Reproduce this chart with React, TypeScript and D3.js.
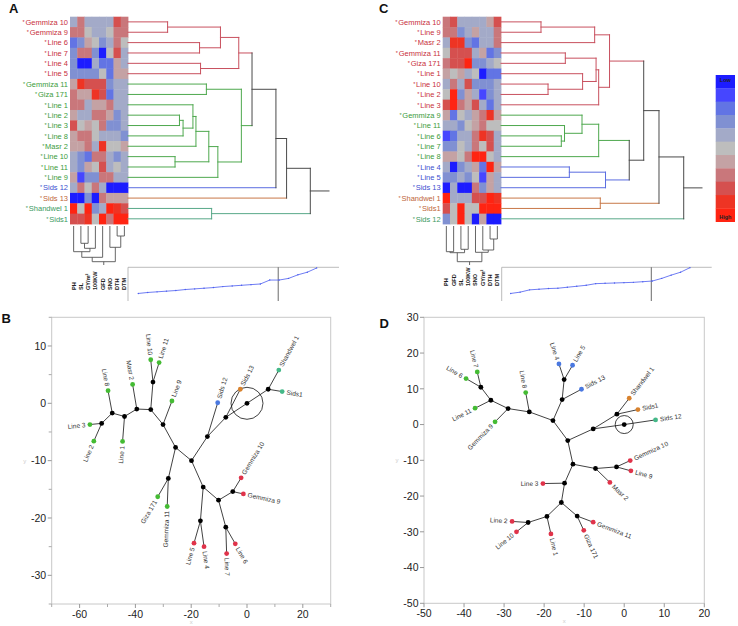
import React from "react";
import * as d3 from "d3";

// ---------- shared palette (Low -> High) ----------
const palette = ["#1c1cff", "#4646ff", "#6274e4", "#8090d2", "#a3aac8", "#bdbdbd", "#c4a2a4", "#c9777b", "#d5504f", "#ee3424", "#ff2412"];

const labelColor: Record<string, string> = { r: "#c83040", g: "#3c9c3c", b: "#3c50d0", o: "#c0663a", t: "#3a9a62" };
const branchColor: Record<string, string> = { r: "#c8505e", g: "#4ea84e", b: "#5a6ce0", o: "#c87848", t: "#58a888", k: "#4a4a4a" };
const dotColor: Record<string, string> = { r: "#e0334a", g: "#44bb33", b: "#4a78e0", o: "#d8822e", t: "#44b888" };

// ---------- Panel A data ----------
const colsA = ["PH", "SL", "GY/m²", "100KW", "GFD", "SNO", "DTH", "DTM"];
const rowsA = ["Gemmiza 10", "Gemmiza 9", "Line 6", "Line 7", "Line 4", "Line 5", "Gemmiza 11", "Giza 171", "Line 1", "Line 2", "Line 3", "Line 8", "Masr 2", "Line 10", "Line 11", "Line 9", "Sids 12", "Sids 13", "Shandwel 1", "Sids1"];
const groupsA = ["r", "r", "r", "r", "r", "r", "g", "g", "g", "g", "g", "g", "g", "g", "g", "g", "b", "o", "t", "t"];
const heatA = [
  [-1, 2, -1, -1, -1, -1, 3, 2],
  [2, 2, 0, -1, -1, 0, 2, 2],
  [-3, -2, 1, 0, -2, -1, 2, 0],
  [-2, 2, 2, -2, -5, 0, 3, -1],
  [-2, -5, -5, -1, -3, -3, 1, -1],
  [-2, -2, -2, -2, 0, -3, 1, 1],
  [1, 4, 3, 3, 3, -2, -1, -1],
  [2, 1, 1, 4, 3, -3, -1, -1],
  [2, 2, -1, 1, 1, 2, -1, -1],
  [1, -1, -1, 2, 2, 1, -2, -1],
  [3, 0, 1, 0, 2, -2, -2, -1],
  [1, 2, 2, 0, -1, -1, -1, -2],
  [1, 1, 2, -1, 4, 0, 0, 1],
  [-1, -2, -3, 2, 2, -1, -2, -1],
  [-1, -2, 1, 0, 3, -1, 0, -1],
  [1, -4, -2, -2, 2, 2, -1, -1],
  [-1, 2, 0, 2, -1, -5, -5, -5],
  [-5, -5, -2, -5, 2, 1, 1, 1],
  [5, 0, 5, -2, -1, 5, 4, 3],
  [3, 3, 4, 0, 5, 2, 5, 5],
];
type M = [string | number, string | number, number, string];
const mergesA: M[] = [
  ["Gemmiza 10", "Gemmiza 9", 1.97, "r"],
  ["Line 6", "Line 7", 3.56, "r"],
  [0, 1, 4.6, "r"],
  ["Line 4", "Line 5", 3.61, "r"],
  [2, 3, 5.51, "r"],
  ["Gemmiza 11", "Giza 171", 3.9, "g"],
  ["Line 2", "Line 3", 2.56, "g"],
  [6, "Line 8", 2.74, "g"],
  ["Line 1", 7, 3.23, "g"],
  [8, "Masr 2", 3.38, "g"],
  ["Line 10", "Line 11", 2.34, "g"],
  [9, 10, 4.02, "g"],
  [11, "Line 9", 4.47, "g"],
  [5, 12, 5.64, "g"],
  [4, 13, 6.17, "k"],
  [14, "Sids 12", 7.36, "k"],
  [15, "Sids 13", 7.89, "k"],
  ["Shandwel 1", "Sids1", 4.16, "t"],
  [16, 17, 9.07, "k"],
];
type CM = [string | number, string | number, number];
const colMergesA: CM[] = [
  ["SL", "GY/m²", 1.73],
  [0, "100KW", 2.23],
  ["PH", 1, 2.57],
  [2, "GFD", 3.13],
  ["DTH", "DTM", 1.0],
  ["SNO", 4, 2.13],
  [3, 5, 3.57],
];
const kdA = [0.2, 0.23, 0.25, 0.27, 0.29, 0.32, 0.34, 0.36, 0.38, 0.41, 0.43, 0.45, 0.47, 0.49, 0.61, 0.61, 0.66, 0.77, 0.85, 0.98];

// ---------- Panel C data ----------
const colsC = ["PH", "GFD", "SL", "100KW", "SNO", "GY/m²", "DTH", "DTM"];
const rowsC = ["Gemmiza 10", "Line 9", "Masr 2", "Gemmiza 11", "Giza 171", "Line 1", "Line 10", "Line 2", "Line 3", "Gemmiza 9", "Line 11", "Line 6", "Line 7", "Line 8", "Line 4", "Line 5", "Sids 13", "Shandwel 1", "Sids1", "Sids 12"];
const groupsC = ["r", "r", "r", "r", "r", "r", "r", "r", "r", "g", "g", "g", "g", "g", "b", "b", "b", "o", "o", "t"];
const heatC = [
  [2, 3, -1, -1, -1, -1, 1, 3],
  [2, 2, -2, -1, 1, -1, -1, 2],
  [-1, 4, 4, -2, -3, -1, -1, 2],
  [0, 3, 3, 3, -1, 1, -3, -2],
  [2, 3, 3, 5, -2, -2, -1, 0],
  [1, 0, 1, -1, 0, -5, -3, -3],
  [-1, 2, -1, 3, -2, -2, -2, -1],
  [0, 5, -2, 1, -1, -4, -2, -1],
  [3, 5, 2, 1, 3, -1, -3, -1],
  [1, -3, 0, -1, 1, 2, 4, 1],
  [-1, -1, -2, 0, 1, 2, 0, 0],
  [-4, -3, -1, -1, 2, 4, 3, -1],
  [-2, -2, 0, -1, 2, 0, 3, -1],
  [1, 1, 0, 2, 5, 5, 0, -1],
  [-1, -5, -2, -1, 1, -3, 5, 1],
  [-2, -2, -1, -2, 0, -4, 1, -1],
  [-5, -1, -5, -5, 2, -2, 1, -1],
  [5, -1, -1, -1, 3, 3, 5, 4],
  [3, 0, 5, 0, 0, 5, 5, 5],
  [-2, 0, 5, 0, -5, 1, -5, -5],
];
const mergesC: M[] = [
  ["Gemmiza 10", "Line 9", 1.99, "r"],
  [0, "Masr 2", 4.66, "r"],
  ["Gemmiza 11", "Giza 171", 3.2, "r"],
  ["Line 10", "Line 2", 2.34, "r"],
  ["Line 1", 3, 4.06, "r"],
  [2, 4, 4.73, "r"],
  [5, "Line 3", 4.86, "r"],
  [1, 6, 5.4, "r"],
  ["Line 6", "Line 7", 3.0, "g"],
  ["Line 11", 8, 3.16, "g"],
  ["Gemmiza 9", 9, 4.03, "g"],
  [10, "Line 8", 4.86, "g"],
  ["Line 4", "Line 5", 3.4, "b"],
  [12, "Sids 13", 5.2, "b"],
  [11, 13, 6.38, "k"],
  [7, 14, 7.1, "k"],
  ["Shandwel 1", "Sids1", 4.94, "o"],
  [15, 16, 7.86, "k"],
  [17, "Sids 12", 9.09, "k"],
];
const colMergesC: CM[] = [
  ["PH", "GFD", 2.57],
  ["SL", "100KW", 2.33],
  [0, 1, 2.67],
  ["DTH", "DTM", 1.3],
  ["GY/m²", 3, 2.4],
  ["SNO", 4, 2.63],
  [2, 5, 3.57],
];
const kdC = [0.2, 0.24, 0.31, 0.33, 0.35, 0.36, 0.39, 0.42, 0.45, 0.5, 0.51, 0.52, 0.53, 0.54, 0.56, 0.58, 0.66, 0.76, 0.85, 0.99];

// ---------- Panel B data ----------
type N = [string, number, number, string];
const treeBNodes: N[] = [
  ["c", 0, 0, ""], ["n1", 7.6, 2.45, ""], ["n2", -7.6, -2.45, ""], ["n3", -14.2, -5.8, ""],
  ["n4", -19.9, -10.0, ""], ["n5", -25.6, -7.7, ""], ["n6", -30.1, -3.7, ""], ["n7", -34.5, -1.1, ""],
  ["n8", -33.7, 3.7, ""], ["n9", -39.5, -1.0, ""], ["n10", -43.9, -2.3, ""], ["n11", -48.3, -1.7, ""],
  ["n12", -52.1, -3.5, ""], ["n13", -28.2, -13.1, ""], ["n14", -15.7, -14.6, ""], ["n15", -16.7, -20.5, ""],
  ["n16", -10.2, -16.9, ""], ["n17", -5.1, -15.4, ""], ["n18", -7.6, -21.6, ""],
  ["Shandwel 1", 11.4, 5.8, "t"], ["Sids1", 12.6, 2.05, "t"], ["Sids 13", -2.4, 2.45, "o"],
  ["Sids 12", -10.5, 0.1, "b"], ["Line 9", -26.9, 0.4, "g"], ["Line 10", -34.5, 7.6, "g"],
  ["Line 11", -31.5, 7.1, "g"], ["Masr 2", -41.0, 3.3, "g"], ["Line 8", -49.8, 2.2, "g"],
  ["Line 3", -56.3, -3.7, "g"], ["Line 2", -54.9, -6.6, "g"], ["Line 1", -44.6, -6.65, "g"],
  ["Giza 171", -32.0, -16.3, "g"], ["Gemmiza 11", -28.6, -18.0, "g"], ["Gemmiza 10", -2.1, -13.0, "r"],
  ["Gemmiza 9", -1.3, -15.8, "r"], ["Line 5", -19.0, -24.4, "r"], ["Line 4", -15.4, -25.0, "r"],
  ["Line 7", -7.3, -26.2, "r"], ["Line 6", -4.2, -24.5, "r"],
];
const treeBEdges: [string, string][] = [
  ["c", "n1"], ["c", "n2"], ["n1", "Shandwel 1"], ["n1", "Sids1"], ["n2", "Sids 13"], ["n2", "n3"],
  ["n3", "Sids 12"], ["n3", "n4"], ["n4", "n5"], ["n4", "n14"], ["n5", "n6"], ["n5", "n13"],
  ["n6", "Line 9"], ["n6", "n7"], ["n7", "n8"], ["n7", "n9"], ["n8", "Line 10"], ["n8", "Line 11"],
  ["n9", "Masr 2"], ["n9", "n10"], ["n10", "Line 1"], ["n10", "n11"], ["n11", "Line 8"], ["n11", "n12"],
  ["n12", "Line 3"], ["n12", "Line 2"], ["n13", "Giza 171"], ["n13", "Gemmiza 11"], ["n14", "n15"],
  ["n14", "n16"], ["n15", "Line 5"], ["n15", "Line 4"], ["n16", "n17"], ["n16", "n18"],
  ["n17", "Gemmiza 10"], ["n17", "Gemmiza 9"], ["n18", "Line 7"], ["n18", "Line 6"],
];
const ticksBX = [-60, -40, -20, 0, 20];
const ticksBY = [10, 0, -10, -20, -30];

// ---------- Panel D data ----------
const treeDNodes: N[] = [
  ["c", 0, 0, ""], ["a1", -1.83, 2.89, ""], ["a2", -7.75, -1.21, ""], ["a3", -14.1, -4.47, ""],
  ["a4", -17.8, 1.12, ""], ["a5", -15.5, 6.99, ""], ["a6", -15.0, 12.58, ""], ["a7", -23.7, 3.54, ""],
  ["a8", -29.0, 4.47, ""], ["a9", -33.3, 6.8, ""], ["a10", -35.8, 10.44, ""], ["a11", -12.8, -11.09, ""],
  ["a12", -7.17, -12.3, ""], ["a13", -1.92, -11.84, ""], ["a14", -14.9, -16.4, ""], ["a15", -15.7, -21.8, ""],
  ["a16", -19.3, -25.7, ""], ["a17", -24.0, -27.4, ""], ["a18", -11.75, -25.6, ""],
  ["Sids 12", 7.83, 1.3, "t"], ["Shandwel 1", 1.25, 7.36, "o"], ["Sids1", 3.42, 4.19, "o"],
  ["Sids 13", -10.67, 9.88, "b"], ["Line 4", -16.3, 16.96, "b"], ["Line 5", -12.9, 16.59, "b"],
  ["Line 8", -24.6, 8.95, "g"], ["Gemmiza 9", -32.25, 0.75, "g"], ["Line 11", -37.25, 4.57, "g"],
  ["Line 6", -39.5, 12.86, "g"], ["Line 7", -36.7, 14.72, "g"], ["Gemmiza 10", 1.5, -10.07, "r"],
  ["Line 9", 1.67, -12.95, "r"], ["Masr 2", -3.58, -16.2, "r"], ["Line 3", -20.3, -16.5, "r"],
  ["Line 2", -28.0, -27.1, "r"], ["Line 10", -26.9, -30.0, "r"], ["Line 1", -18.3, -30.6, "r"],
  ["Giza 171", -10.1, -29.6, "r"], ["Gemmiza 11", -7.75, -27.3, "r"],
];
const treeDEdges: [string, string][] = [
  ["a2", "a1"], ["a2", "c"], ["c", "Sids 12"], ["a1", "Shandwel 1"], ["a1", "Sids1"], ["a3", "a2"],
  ["a3", "a4"], ["a3", "a11"], ["a4", "a5"], ["a4", "a7"], ["a5", "a6"], ["a5", "Sids 13"],
  ["a6", "Line 4"], ["a6", "Line 5"], ["a7", "Line 8"], ["a7", "a8"], ["a8", "Gemmiza 9"], ["a8", "a9"],
  ["a9", "Line 11"], ["a9", "a10"], ["a10", "Line 6"], ["a10", "Line 7"], ["a11", "a12"], ["a11", "a14"],
  ["a12", "a13"], ["a12", "Masr 2"], ["a13", "Gemmiza 10"], ["a13", "Line 9"], ["a14", "Line 3"],
  ["a14", "a15"], ["a15", "a16"], ["a15", "a18"], ["a16", "a17"], ["a16", "Line 1"], ["a17", "Line 2"],
  ["a17", "Line 10"], ["a18", "Giza 171"], ["a18", "Gemmiza 11"],
];
const ticksDX = [-50, -40, -30, -20, -10, 0, 10, 20];
const ticksDY = [30, 20, 10, 0, -10, -20, -30, -40, -50];

const FONT = "'Liberation Sans', Arial, Helvetica, sans-serif";

// ---------- Heatmap + dendrogram panel ----------
type HeatProps = {
  rows: string[]; groups: string[]; heat: number[][]; cols: string[]; merges: M[]; colMerges: CM[]; kd: number[];
  hx0: number; hx1: number; stubX: number; colLabelY: number; boxX0: number; boxX1: number; kdX0: number; kdX1: number;
};

function HeatPanel(p: HeatProps) {
  const hy0 = 16.7, hy1 = 224;
  const rowScale = d3.scaleBand<string>().domain(p.rows).range([hy0, hy1]);
  const colScale = d3.scaleBand<string>().domain(p.cols).range([p.hx0, p.hx1]);
  const color = d3.scaleQuantize<string>().domain([-5.5, 5.5]).range(palette);
  const rh = rowScale.bandwidth(), cw = colScale.bandwidth();
  const rowY = (r: string) => (rowScale(r) as number) + rh / 2;
  const colX = (c: string) => (colScale(c) as number) + cw / 2;

  // row dendrogram
  const hx = d3.scaleLinear().domain([0, 10]).range([p.hx1, p.stubX]);
  const grp: Record<string, string> = {};
  p.rows.forEach((r, i) => (grp[r] = p.groups[i]));
  const pos: { x: number; y: number; c: string }[] = [];
  const getPos = (k: string | number) => (typeof k === "number" ? pos[k] : { x: hx(0), y: rowY(k), c: grp[k] });
  const segs: { x1: number; y1: number; x2: number; y2: number; c: string }[] = [];
  p.merges.forEach(([a, b, h, c]) => {
    const pa = getPos(a), pb = getPos(b);
    const x = hx(h);
    segs.push({ x1: pa.x, y1: pa.y, x2: x, y2: pa.y, c: pa.c });
    segs.push({ x1: pb.x, y1: pb.y, x2: x, y2: pb.y, c: pb.c });
    segs.push({ x1: x, y1: pa.y, x2: x, y2: pb.y, c });
    pos.push({ x, y: (pa.y + pb.y) / 2, c });
  });
  const root = pos[pos.length - 1];
  segs.push({ x1: root.x, y1: root.y, x2: hx(10), y2: root.y, c: "k" });

  // column dendrogram
  const hy = d3.scaleLinear().domain([0, 3.9]).range([226, 265]);
  const cpos: { x: number; y: number }[] = [];
  const getC = (k: string | number) => (typeof k === "number" ? cpos[k] : { x: colX(k), y: hy(0) });
  const csegs: { x1: number; y1: number; x2: number; y2: number }[] = [];
  p.colMerges.forEach(([a, b, h]) => {
    const pa = getC(a), pb = getC(b);
    const y = hy(h);
    csegs.push({ x1: pa.x, y1: pa.y, x2: pa.x, y2: y });
    csegs.push({ x1: pb.x, y1: pb.y, x2: pb.x, y2: y });
    csegs.push({ x1: pa.x, y1: y, x2: pb.x, y2: y });
    cpos.push({ x: (pa.x + pb.x) / 2, y });
  });
  const croot = cpos[cpos.length - 1];
  csegs.push({ x1: croot.x, y1: croot.y, x2: croot.x, y2: hy(3.9) });

  // sorted-value strip
  const kx = d3.scaleLinear().domain([0, p.kd.length - 1]).range([p.kdX0, p.kdX1]);
  const ky = d3.scaleLinear().domain([0, 1]).range([300, 267.3]);
  const line = d3.line<number>().x((_, i) => kx(i)).y((d) => ky(d));
  const thr = kx(14.9);

  return (
    <g>
      {p.heat.map((row, i) =>
        row.map((v, j) => (
          <rect key={`${i}-${j}`} x={colScale(p.cols[j])} y={rowScale(p.rows[i])} width={cw + 0.4} height={rh + 0.4} fill={color(v)} />
        ))
      )}
      {p.rows.map((r, i) => (
        <text key={r} x={p.hx0 - 2} y={rowY(r) + 2.7} textAnchor="end" fontSize={7.5} fill={labelColor[p.groups[i]]} fontFamily={FONT}>
          <tspan fontSize={5.5} dy={-1}>*</tspan>
          <tspan dy={1} dx={0.8}>{r}</tspan>
        </text>
      ))}
      {segs.map((s, i) => (
        <line key={i} x1={s.x1} y1={s.y1} x2={s.x2} y2={s.y2} stroke={branchColor[s.c]} strokeWidth={1} strokeLinecap="square" />
      ))}
      {csegs.map((s, i) => (
        <line key={i} x1={s.x1} y1={s.y1} x2={s.x2} y2={s.y2} stroke="#555" strokeWidth={0.9} />
      ))}
      {p.cols.map((c) => (
        <text key={c} transform={`translate(${colX(c) + 2},${p.colLabelY}) rotate(-90)`} fontSize={5.6} fontWeight="bold" fill="#222" fontFamily={FONT}>
          {c}
        </text>
      ))}
      <line x1={p.boxX0} y1={267.3} x2={p.boxX1} y2={267.3} stroke="#aaa" strokeWidth={0.8} />
      <line x1={p.boxX0} y1={267.3} x2={p.boxX0} y2={301} stroke="#aaa" strokeWidth={0.8} />
      <line x1={thr} y1={267.3} x2={thr} y2={301} stroke="#444" strokeWidth={0.8} />
      <path d={line(p.kd) as string} fill="none" stroke="#4a5cf0" strokeWidth={0.8} />
      {p.kd.map((v, i) => (
        <circle key={i} cx={kx(i)} cy={ky(v)} r={0.7} fill="#4a5cf0" />
      ))}
    </g>
  );
}

// ---------- Tree panel ----------
type TreeProps = {
  nodes: N[]; edges: [string, string][]; xDomain: [number, number]; yDomain: [number, number];
  l: number; r: number; t: number; b: number; xTicks: number[]; yTicks: number[]; xMinor: number[]; yMinor: number[]; circleR: number;
};

function TreePanel(p: TreeProps) {
  const xs = d3.scaleLinear().domain(p.xDomain).range([p.l, p.r]);
  const ys = d3.scaleLinear().domain(p.yDomain).range([p.b, p.t]);
  const byId: Record<string, N> = {};
  p.nodes.forEach((n) => (byId[n[0]] = n));
  const parent: Record<string, string> = {};
  p.edges.forEach(([a, b]) => {
    if (byId[b][3]) parent[b] = a;
    else if (byId[a][3]) parent[a] = b;
  });
  const c = byId["c"];
  return (
    <g fontFamily={FONT}>
      <rect x={p.l} y={p.t} width={p.r - p.l} height={p.b - p.t} fill="none" stroke="#c8c8c8" strokeWidth={1} />
      {p.xTicks.map((v) => (
        <g key={v}>
          <line x1={xs(v)} x2={xs(v)} y1={p.b} y2={p.b + 4} stroke="#999" />
          <text x={xs(v)} y={p.b + 14} textAnchor="middle" fontSize={10.5} fill="#222">{v}</text>
        </g>
      ))}
      {p.xMinor.map((v) => (
        <line key={v} x1={xs(v)} x2={xs(v)} y1={p.b} y2={p.b + 3} stroke="#aaa" />
      ))}
      {p.yTicks.map((v) => (
        <g key={v}>
          <line x1={p.l - 4} x2={p.l} y1={ys(v)} y2={ys(v)} stroke="#999" />
          <text x={p.l - 5.5} y={ys(v) + 3.7} textAnchor="end" fontSize={10.5} fill="#222">{v}</text>
        </g>
      ))}
      {p.yMinor.map((v) => (
        <line key={v} x1={p.l - 3} x2={p.l} y1={ys(v)} y2={ys(v)} stroke="#aaa" />
      ))}
      <text x={(p.l + p.r) / 2} y={p.b + 20} textAnchor="middle" fontSize={6} fill="#ccc">x</text>
      <text x={p.l - 27} y={(p.t + p.b) / 2 + 2} textAnchor="middle" fontSize={6} fill="#ccc">y</text>
      {p.edges.map(([a, b], i) => (
        <line key={i} x1={xs(byId[a][1])} y1={ys(byId[a][2])} x2={xs(byId[b][1])} y2={ys(byId[b][2])} stroke="#111" strokeWidth={0.8} />
      ))}
      <circle cx={xs(c[1])} cy={ys(c[2])} r={p.circleR} fill="none" stroke="#111" strokeWidth={0.8} />
      {p.nodes.map((n) => (
        <circle key={n[0]} cx={xs(n[1])} cy={ys(n[2])} r={2.4} fill={n[3] ? dotColor[n[3]] : "#000"} />
      ))}
      {p.nodes.filter((n) => n[3]).map((n) => {
        const par = byId[parent[n[0]]];
        const x = xs(n[1]), y = ys(n[2]);
        const ang = (Math.atan2(y - ys(par[2]), x - xs(par[1])) * 180) / Math.PI;
        const right = ang > -90 && ang < 90;
        return (
          <text key={"l" + n[0]} transform={`translate(${x},${y}) rotate(${right ? ang : ang + 180})`} x={right ? 4.5 : -4.5} y={2.2}
            textAnchor={right ? "start" : "end"} fontSize={6.5} fill="#333">
            {n[0]}
          </text>
        );
      })}
    </g>
  );
}

export default function App() {
  const legendY = d3.scaleBand<number>().domain(d3.range(11)).range([75, 221.7]);
  return (
    <svg width={738} height={626} style={{ position: "absolute", left: 0, top: 0, background: "#fff" }} fontFamily={FONT}>
      <rect width={738} height={626} fill="#fff" />
      <HeatPanel rows={rowsA} groups={groupsA} heat={heatA} cols={colsA} merges={mergesA} colMerges={colMergesA} kd={kdA}
        hx0={70} hx1={128} stubX={329} colLabelY={290} boxX0={128} boxX1={339} kdX0={138.3} kdX1={316.7} />
      <HeatPanel rows={rowsC} groups={groupsC} heat={heatC} cols={colsC} merges={mergesC} colMerges={colMergesC} kd={kdC}
        hx0={442.7} hx1={501} stubX={702} colLabelY={286} boxX0={501.7} boxX1={711.7} kdX0={510.7} kdX1={690} />
      {d3.range(11).map((i) => (
        <rect key={i} x={715.7} y={legendY(i)} width={19.3} height={legendY.bandwidth() + 0.3} fill={palette[i]} />
      ))}
      <text x={725.3} y={82} textAnchor="middle" fontSize={5.5} fontWeight="bold" fill="#222">Low</text>
      <text x={725.3} y={219} textAnchor="middle" fontSize={5.5} fontWeight="bold" fill="#222">High</text>

      <TreePanel nodes={treeBNodes} edges={treeBEdges} xDomain={[-70, 30]} yDomain={[-35, 15]} l={51.7} r={330.7} t={317.3} b={604}
        xTicks={ticksBX} yTicks={ticksBY} xMinor={[-70, -50, -30, -10, 10, 30]} yMinor={[15, 5, -5, -15, -25, -35]} circleR={16} />
      <TreePanel nodes={treeDNodes} edges={treeDEdges} xDomain={[-50, 20]} yDomain={[-50, 30]} l={424} r={704.3} t={317.3} b={603.3}
        xTicks={ticksDX} yTicks={ticksDY} xMinor={[]} yMinor={[]} circleR={9} />

      <text x={9} y={13.3} fontSize={13} fontWeight="bold" fill="#111">A</text>
      <text x={379} y={13.3} fontSize={13} fontWeight="bold" fill="#111">C</text>
      <text x={1.5} y={323.3} fontSize={13} fontWeight="bold" fill="#111">B</text>
      <text x={379.5} y={328.3} fontSize={13} fontWeight="bold" fill="#111">D</text>
    </svg>
  );
}
